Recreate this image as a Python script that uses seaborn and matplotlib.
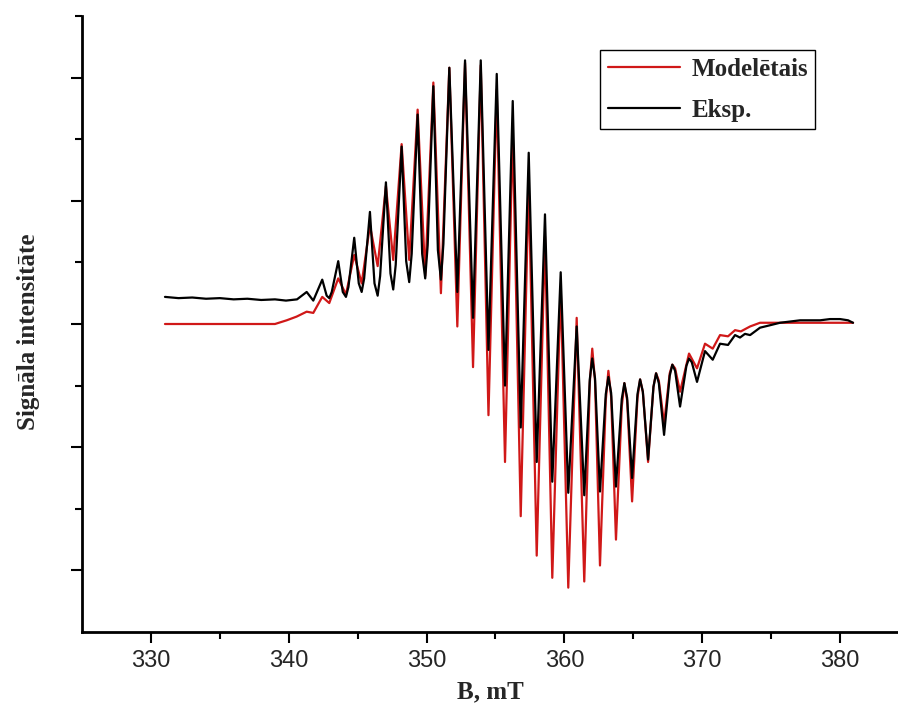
import numpy as np
import pandas as pd
import matplotlib
matplotlib.use("Agg")
import matplotlib.pyplot as plt
import seaborn as sns

# ---- data (B in mT, intensity in arbitrary units) ----
model_B = [331.02, 339.00, 339.85, 340.57, 341.30, 341.78, 342.43, 342.94, 343.59, 344.15,
           344.75, 345.29, 345.89, 346.45, 347.05, 347.58, 348.19, 348.74, 349.35, 349.90,
           350.49, 351.04, 351.65, 352.23, 352.79, 353.37, 353.93, 354.49, 355.09, 355.69,
           356.25, 356.83, 357.41, 357.99, 358.59, 359.12, 359.73, 360.28, 360.89, 361.44,
           361.84, 362.02, 362.22, 362.58, 363.00, 363.19, 363.39, 363.74, 364.16, 364.35,
           364.55, 364.91, 365.30, 365.49, 365.69, 366.07, 366.46, 366.65, 366.85, 367.23,
           367.64, 367.83, 368.03, 368.39, 369.04, 369.62, 370.20, 370.76, 371.29, 371.87,
           372.38, 372.80, 373.47, 374.19, 374.92, 380.94]
model_I = [0.00, 0.00, 0.03, 0.06, 0.10, 0.09, 0.22, 0.17, 0.37, 0.24,
           0.56, 0.33, 0.80, 0.47, 1.12, 0.52, 1.46, 0.52, 1.74, 0.39,
           1.96, 0.25, 2.08, -0.02, 2.12, -0.35, 2.10, -0.74, 1.90, -1.12,
           1.57, -1.56, 1.14, -1.88, 0.71, -2.06, 0.30, -2.14, 0.05, -2.09,
           -0.48, -0.20, -0.46, -1.96, -0.62, -0.38, -0.59, -1.75, -0.67, -0.48,
           -0.62, -1.44, -0.60, -0.45, -0.55, -1.12, -0.51, -0.40, -0.46, -0.81,
           -0.40, -0.33, -0.36, -0.55, -0.24, -0.36, -0.16, -0.20, -0.09, -0.10,
           -0.05, -0.06, -0.02, 0.01, 0.01, 0.01]

exp_B = [331.02, 332.0, 333.0, 334.0, 335.0, 336.0, 337.0, 338.0, 339.0, 339.8,
         340.6, 341.30, 341.78, 342.43, 342.75, 342.94, 343.12, 343.59, 343.92, 344.15,
         344.33, 344.75, 345.08, 345.29, 345.47, 345.89, 346.22, 346.45, 346.63, 347.05,
         347.38, 347.58, 347.76, 348.19, 348.52, 348.74, 348.92, 349.35, 349.68, 349.90,
         350.08, 350.49, 350.82, 351.04, 351.22, 351.65, 352.23, 352.79, 353.37, 353.93,
         354.49, 355.09, 355.69, 356.25, 356.83, 357.41, 357.99, 358.59, 359.12, 359.73,
         360.28, 360.89, 361.44, 361.84, 362.02, 362.22, 362.58, 363.00, 363.19, 363.39,
         363.74, 364.16, 364.35, 364.55, 364.91, 365.30, 365.49, 365.69, 366.07, 366.46,
         366.65, 366.85, 367.23, 367.64, 367.83, 368.03, 368.39, 368.85, 369.04, 369.24,
         369.62, 370.20, 370.76, 371.29, 371.87, 372.38, 372.74, 373.10, 373.47, 374.19,
         374.92, 375.64, 376.37, 377.10, 377.82, 378.55, 379.27, 380.00, 380.58, 380.94]
exp_I = [0.22, 0.21, 0.215, 0.205, 0.21, 0.20, 0.205, 0.195, 0.20, 0.19,
         0.20, 0.26, 0.19, 0.36, 0.23, 0.21, 0.26, 0.51, 0.26, 0.22,
         0.30, 0.70, 0.33, 0.26, 0.37, 0.91, 0.33, 0.23, 0.39, 1.15,
         0.41, 0.28, 0.48, 1.44, 0.51, 0.34, 0.57, 1.70, 0.57, 0.37,
         0.64, 1.93, 0.60, 0.36, 0.65, 2.08, 0.26, 2.14, 0.05, 2.14,
         -0.21, 2.03, -0.50, 1.81, -0.84, 1.39, -1.12, 0.89, -1.28, 0.42,
         -1.37, -0.02, -1.39, -0.45, -0.28, -0.44, -1.36, -0.57, -0.43, -0.56,
         -1.32, -0.61, -0.48, -0.60, -1.25, -0.57, -0.45, -0.55, -1.10, -0.51,
         -0.40, -0.48, -0.90, -0.42, -0.33, -0.38, -0.67, -0.34, -0.28, -0.31,
         -0.47, -0.22, -0.29, -0.16, -0.17, -0.09, -0.11, -0.08, -0.09, -0.03,
         -0.01, 0.01, 0.02, 0.03, 0.03, 0.03, 0.04, 0.04, 0.03, 0.01]

labels = ["Modelētais", "Eksp."]
x_ticks = [330, 340, 350, 360, 370, 380]

df = pd.concat([
    pd.DataFrame({"B": model_B, "I": model_I, "series": labels[0]}),
    pd.DataFrame({"B": exp_B, "I": exp_I, "series": labels[1]}),
], ignore_index=True)

sns.set_theme(style="white")
plt.rcParams["font.family"] = ["Liberation Sans", "DejaVu Sans"]

fig = plt.figure(figsize=(8.98, 7.12), dpi=100)
ax = fig.add_axes([82 / 898, 1 - 632 / 712, (909 - 82) / 898, (632 - 16) / 712])

sns.lineplot(data=df, x="B", y="I", hue="series", hue_order=labels,
             palette={labels[0]: "#d01818", labels[1]: "#000000"},
             estimator=None, sort=False, linewidth=1.6, ax=ax,
             solid_joinstyle="round")

ax.set_xlim(325, 385)
ax.set_ylim(-2.5, 2.5)
ax.set_xticks(x_ticks)
ax.set_xticklabels([str(t) for t in x_ticks], fontsize=17)
ax.set_xticks(np.arange(335, 385, 10), minor=True)
ax.set_yticks([-2, -1, 0, 1, 2])
ax.set_yticks([-1.5, -0.5, 0.5, 1.5, 2.5], minor=True)
ax.set_yticklabels([])
ax.tick_params(axis="both", which="major", direction="out", length=8, width=1.5,
               color="black", bottom=True, left=True)
ax.tick_params(axis="both", which="minor", direction="out", length=5, width=1.5,
               color="black", bottom=True, left=True)
ax.tick_params(axis="x", pad=5)

for s in ["top", "right"]:
    ax.spines[s].set_visible(False)
for s in ["left", "bottom"]:
    ax.spines[s].set_color("black")
    ax.spines[s].set_linewidth(2)

ax.set_xlabel("B, mT", fontsize=18, fontweight="bold",
              family=["Liberation Serif", "DejaVu Serif"])
ax.set_ylabel("Signāla intensitāte", fontsize=18, fontweight="bold",
              family=["Liberation Serif", "DejaVu Serif"])
ax.xaxis.set_label_coords(408 / 827, -48 / 616)
ax.yaxis.set_label_coords(-42 / 827, (632 - 332) / 616)

handles, _ = ax.get_legend_handles_labels()
leg = ax.legend(handles=handles, labels=labels, loc="upper left",
                bbox_to_anchor=(600 / 898, 1 - 50 / 712), bbox_transform=fig.transFigure,
                frameon=True, fancybox=False, edgecolor="black", framealpha=1,
                handlelength=2.9, handletextpad=0.45, labelspacing=0.72,
                borderpad=0.3, borderaxespad=0,
                prop={"family": ["Liberation Serif", "DejaVu Serif"], "weight": "bold", "size": 18})
leg.get_frame().set_linewidth(1.0)

fig.savefig("out.png", dpi=100)
